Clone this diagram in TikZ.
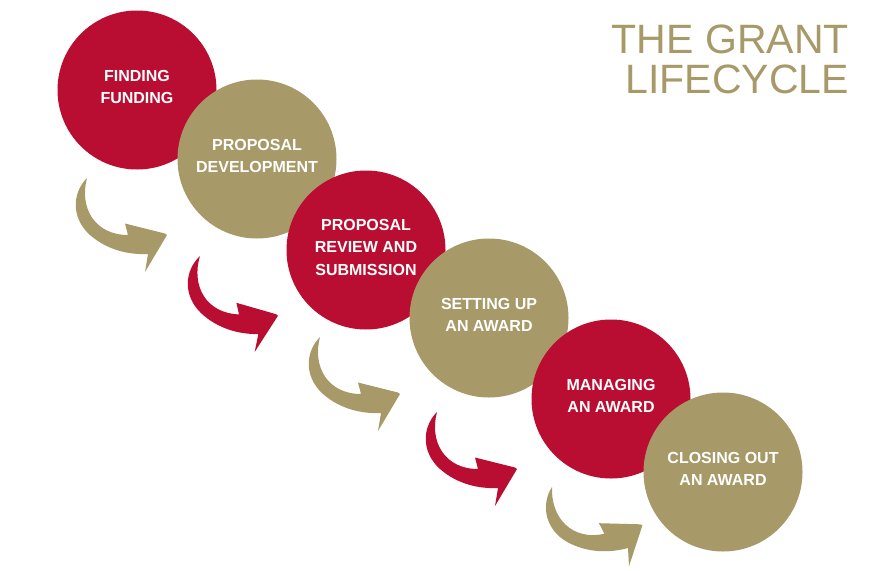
\documentclass[tikz,border=0pt]{standalone}
\usepackage{fontspec}
\setmainfont{Liberation Sans}
\definecolor{grantred}{RGB}{185,14,49}
\definecolor{grantgold}{RGB}{168,153,104}

\begin{document}
\begin{tikzpicture}[x=1pt,y=-1pt,
  stage/.style={circle,minimum size=159pt,inner sep=0pt,text=white,align=center,
    text depth=6pt,font=\fontsize{16}{22.5}\selectfont\bfseries},
  redstage/.style={stage,fill=grantred},
  goldstage/.style={stage,fill=grantgold},
  heading/.style={inner sep=0pt,align=right,text=grantgold,
    font=\fontsize{41}{40}\selectfont},
  pics/curl/.style={code={
    \fill[#1] (0,0) .. controls (-15,15) and (-16,40) .. (3,57)
      .. controls (20,72) and (42,77) .. (61,76) -- (58,94) -- (80,57)
      -- (78,55.5) -- (38,45.5) -- (41,57) .. controls (8,57) and (-8,30) .. (0,0) -- cycle;}}]

\fill[white] (0,0) rectangle (893,570);
\useasboundingbox (0,0) rectangle (893,570);

% --- title ------------------------------------------------------------
\node[heading,anchor=north east] (title) at (849,25) {THE GRANT\\LIFECYCLE};

% --- curved arrows ----------------------------------------------------
\pic at (87,178) {curl=grantgold};
\pic[rotate=-2] at (200,256) {curl=grantred};
\pic at (320,337) {curl=grantgold};
\pic at (437,412) {curl=grantred};
\pic[rotate=12.5] at (552,487) {curl=grantgold};

% --- stages -----------------------------------------------------------
\node[redstage] (finding) at (137,90) {FINDING\\FUNDING};
\node[goldstage] (proposal) at (257,159) {PROPOSAL\\DEVELOPMENT};
\node[redstage] (review) at (366,250) {PROPOSAL\\REVIEW AND\\SUBMISSION};
\node[goldstage] (setup) at (489,318) {SETTING UP\\AN AWARD};
\node[redstage] (managing) at (611,399) {MANAGING\\AN AWARD};
\node[goldstage] (closing) at (723,472) {CLOSING OUT\\AN AWARD};
\end{tikzpicture}
\end{document}
